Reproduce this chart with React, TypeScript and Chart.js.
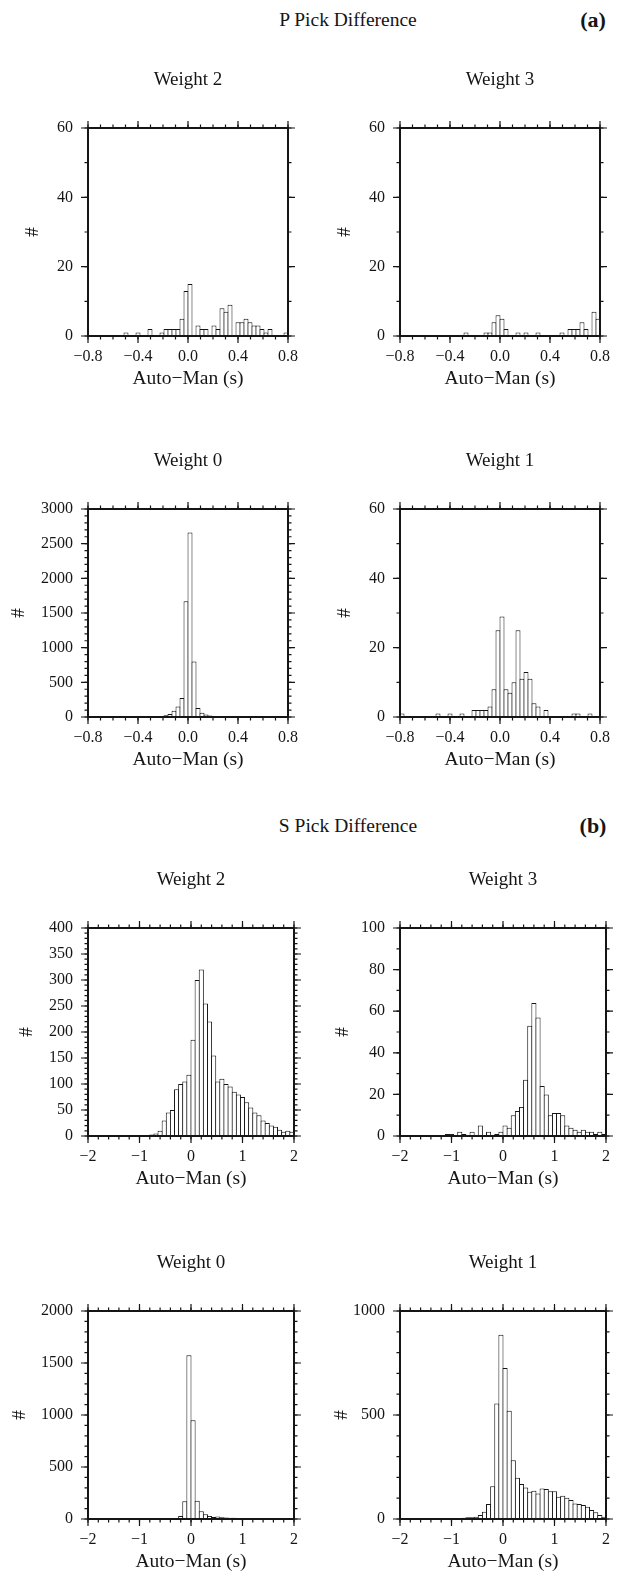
import React, { useEffect, useRef } from 'react';
import { Chart, registerables } from 'chart.js';

Chart.register(...registerables);

// ---- bins ----
const P_BIN_START = -0.8;
const P_BIN_WIDTH = 0.032;
const S_BIN_START = -2;
const S_BIN_WIDTH = 0.08;

// ---- P pick difference counts (50 bins from -0.8 to 0.8) ----
const P_W2 = [
  0, 0, 0, 0, 0, 0, 0, 0, 0, 1,
  0, 0, 1, 0, 0, 2, 0, 0, 1, 2,
  2, 2, 2, 5, 13, 15, 0, 3, 2, 2,
  0, 3, 2, 8, 7, 9, 0, 4, 4, 5,
  4, 3, 3, 2, 1, 2, 0, 0, 0, 1,
];
const P_W3 = [
  0, 0, 0, 0, 0, 0, 0, 0, 0, 0,
  0, 0, 0, 0, 0, 0, 1, 0, 0, 0,
  0, 1, 1, 4, 6, 5, 2, 0, 0, 1,
  0, 1, 0, 0, 1, 0, 0, 0, 0, 0,
  1, 0, 2, 2, 2, 4, 2, 0, 7, 5,
];
const P_W0 = [
  0, 0, 0, 0, 0, 0, 0, 0, 0, 0,
  0, 0, 0, 1, 2, 4, 6, 10, 15, 25,
  45, 90, 150, 275, 1670, 2660, 800, 130, 60, 35,
  20, 12, 8, 5, 3, 2, 1, 0, 0, 0,
  0, 0, 0, 0, 0, 0, 0, 0, 0, 0,
];
const P_W1 = [
  1, 0, 0, 0, 0, 0, 0, 0, 0, 1,
  0, 0, 1, 0, 0, 1, 0, 0, 2, 2,
  2, 2, 3, 8, 25, 29, 8, 7, 10, 25,
  11, 13, 11, 4, 3, 0, 2, 0, 0, 0,
  0, 0, 0, 1, 1, 0, 0, 1, 0, 0,
];

// ---- S pick difference counts (50 bins from -2 to 2) ----
const S_W2 = [
  0, 0, 0, 0, 0, 1, 0, 0, 1, 0,
  1, 1, 1, 2, 2, 3, 5, 10, 30, 45,
  50, 90, 100, 105, 118, 185, 300, 320, 255, 220,
  155, 105, 110, 100, 95, 85, 80, 75, 65, 55,
  45, 40, 30, 25, 20, 18, 12, 8, 10, 8,
];
const S_W3 = [
  0, 0, 0, 0, 0, 0, 0, 0, 0, 0,
  0, 1, 1, 0, 2, 1, 0, 2, 0, 5,
  0, 2, 0, 1, 2, 5, 4, 10, 12, 14,
  27, 53, 64, 57, 24, 20, 10, 11, 11, 10,
  5, 4, 3, 2, 3, 2, 2, 1, 2, 1,
];
const S_W0 = [
  0, 0, 0, 0, 0, 0, 0, 0, 0, 0,
  0, 0, 0, 0, 0, 0, 0, 1, 2, 3,
  5, 10, 30, 170, 1575, 950, 175, 75, 45, 30,
  20, 25, 18, 15, 12, 12, 10, 8, 6, 5,
  4, 3, 3, 2, 2, 1, 1, 1, 0, 0,
];
const S_W1 = [
  0, 0, 0, 0, 0, 0, 0, 0, 0, 0,
  0, 0, 0, 3, 5, 6, 8, 8, 11, 19,
  35, 72, 158, 555, 886, 726, 520, 283, 198, 168,
  152, 131, 136, 123, 147, 144, 134, 134, 107, 112,
  102, 91, 75, 72, 67, 59, 43, 32, 19, 11,
];

const X_TITLE = 'Auto\u2212Man (s)';
const Y_TITLE = '#';
const SECTION_TITLES = ['P Pick Difference', 'S Pick Difference'];
const SECTION_TAGS = ['(a)', '(b)'];

const FONT = '"Liberation Serif", "Times New Roman", serif';
const INK = '#151515';

const CW = 309;
const CH = 343;
const PLOT_W = 208;
const N_BINS = 50;

type PanelSpec = {
  title: string;
  counts: number[];
  binStart: number;
  binWidth: number;
  xMin: number;
  xMax: number;
  xMajor: number;
  xMinor: number;
  xDecimals: number;
  yMax: number;
  yMajor: number;
  yMinor: number;
  yTitleX: number;
  left: number;
  top: number;
};

const P_AXIS = { binStart: P_BIN_START, binWidth: P_BIN_WIDTH, xMin: -0.8, xMax: 0.8, xMajor: 0.4, xMinor: 0.1, xDecimals: 1 };
const S_AXIS = { binStart: S_BIN_START, binWidth: S_BIN_WIDTH, xMin: -2, xMax: 2, xMajor: 1, xMinor: 0.2, xDecimals: 0 };

const PANELS: PanelSpec[] = [
  { title: 'Weight 2', counts: P_W2, ...P_AXIS, yMax: 60, yMajor: 20, yMinor: 10, yTitleX: 33, left: 0, top: 53 },
  { title: 'Weight 3', counts: P_W3, ...P_AXIS, yMax: 60, yMajor: 20, yMinor: 10, yTitleX: 33, left: 312, top: 53 },
  { title: 'Weight 0', counts: P_W0, ...P_AXIS, yMax: 3000, yMajor: 500, yMinor: 100, yTitleX: 19, left: 0, top: 434 },
  { title: 'Weight 1', counts: P_W1, ...P_AXIS, yMax: 60, yMajor: 20, yMinor: 10, yTitleX: 33, left: 312, top: 434 },
  { title: 'Weight 2', counts: S_W2, ...S_AXIS, yMax: 400, yMajor: 50, yMinor: 10, yTitleX: 27, left: 0, top: 853 },
  { title: 'Weight 3', counts: S_W3, ...S_AXIS, yMax: 100, yMajor: 20, yMinor: 10, yTitleX: 31, left: 312, top: 853 },
  { title: 'Weight 0', counts: S_W0, ...S_AXIS, yMax: 2000, yMajor: 500, yMinor: 100, yTitleX: 20, left: 0, top: 1236 },
  { title: 'Weight 1', counts: S_W1, ...S_AXIS, yMax: 1000, yMajor: 500, yMinor: 100, yTitleX: 30, left: 312, top: 1236 },
];

const frameTicks = {
  id: 'frameTicks',
  afterDatasetsDraw(chart: any, _args: any, opts: any) {
    const { ctx, chartArea: a, scales } = chart;
    const x = scales.x;
    const y = scales.y;
    ctx.save();
    ctx.strokeStyle = INK;
    ctx.lineWidth = 1.2;
    const xTicks = (step: number, len: number) => {
      const n = Math.round((x.max - x.min) / step);
      for (let i = 0; i <= n; i++) {
        const px = x.getPixelForValue(x.min + i * step);
        ctx.beginPath();
        ctx.moveTo(px, a.bottom);
        ctx.lineTo(px, a.bottom + len);
        ctx.moveTo(px, a.top);
        ctx.lineTo(px, a.top - len);
        ctx.stroke();
      }
    };
    const yTicks = (step: number, len: number) => {
      const n = Math.round((y.max - y.min) / step);
      for (let i = 0; i <= n; i++) {
        const py = y.getPixelForValue(y.min + i * step);
        ctx.beginPath();
        ctx.moveTo(a.left, py);
        ctx.lineTo(a.left - len, py);
        ctx.moveTo(a.right, py);
        ctx.lineTo(a.right + len, py);
        ctx.stroke();
      }
    };
    xTicks(opts.xMinor, 3.5);
    xTicks(opts.xMajor, 7);
    yTicks(opts.yMinor, 3.5);
    yTicks(opts.yMajor, 7);
    ctx.lineWidth = 2;
    ctx.strokeRect(a.left, a.top, a.right - a.left, a.bottom - a.top);
    ctx.restore();
  },
};

function makeConfig(spec: PanelSpec): any {
  const counts = spec.counts;
  const points = counts.map((c, i) => ({ x: spec.binStart + spec.binWidth * (i + 0.5), y: c }));
  const binPx = PLOT_W / N_BINS;
  // widen each bar by one pixel so neighbouring outlines overlap into a single line
  const overlap = (binPx + 1) / binPx;
  const yTitleFont = 19;
  return {
    type: 'bar',
    data: {
      datasets: [
        {
          data: points,
          backgroundColor: '#ffffff',
          borderColor: INK,
          borderSkipped: false,
          inflateAmount: 0,
          barPercentage: overlap,
          categoryPercentage: 1,
          borderWidth: (ctx: any) => {
            const h = counts[ctx.dataIndex];
            if (!h) return 0;
            return { top: 1, bottom: 0, left: 1, right: 1 };
          },
        },
      ],
    },
    options: {
      responsive: false,
      maintainAspectRatio: false,
      animation: false,
      devicePixelRatio: 1,
      layout: { padding: { left: 0, right: CW - 88 - PLOT_W, top: 0, bottom: 0 } },
      plugins: {
        legend: { display: false },
        tooltip: { enabled: false },
        title: {
          display: true,
          text: spec.title,
          fullSize: false,
          color: INK,
          font: { family: FONT, size: 19, weight: 'normal', lineHeight: 1.2 },
          padding: { top: 15.6, bottom: 36.6 },
        },
        frameTicks: {
          xMajor: spec.xMajor,
          xMinor: spec.xMinor,
          yMajor: spec.yMajor,
          yMinor: spec.yMinor,
        },
      },
      scales: {
        x: {
          type: 'linear',
          min: spec.xMin,
          max: spec.xMax,
          offset: false,
          grid: { display: false, drawTicks: false },
          border: { display: false },
          ticks: {
            stepSize: spec.xMajor,
            autoSkip: false,
            maxRotation: 0,
            minRotation: 0,
            padding: 11,
            color: INK,
            font: { family: FONT, size: 16, lineHeight: 1.2 },
            callback: (v: any) => {
              const n = Number(v);
              const s = Math.abs(n) < 1e-9 ? (0).toFixed(spec.xDecimals) : n.toFixed(spec.xDecimals);
              return s.replace('-', '\u2212');
            },
          },
          title: {
            display: true,
            text: X_TITLE,
            color: INK,
            font: { family: FONT, size: 19.5, lineHeight: 1.2 },
            padding: { top: 0, bottom: 5 },
          },
          afterFit: (s: any) => {
            s.height = 60;
          },
        },
        y: {
          type: 'linear',
          min: 0,
          max: spec.yMax,
          grid: { display: false, drawTicks: false },
          border: { display: false },
          ticks: {
            stepSize: spec.yMajor,
            autoSkip: false,
            padding: 15,
            color: INK,
            font: { family: FONT, size: 16, lineHeight: 1.2 },
            callback: (v: any) => String(Math.round(Number(v))),
          },
          title: {
            display: true,
            text: Y_TITLE,
            color: INK,
            font: { family: FONT, size: yTitleFont, lineHeight: 1.2 },
            padding: { top: spec.yTitleX - (yTitleFont * 1.2) / 2, bottom: 0 },
          },
          afterFit: (s: any) => {
            s.width = 88;
          },
        },
      },
    },
    plugins: [frameTicks],
  };
}

function Panel({ spec }: { spec: PanelSpec }) {
  const ref = useRef<HTMLCanvasElement>(null);
  useEffect(() => {
    if (!ref.current) return;
    const chart = new Chart(ref.current, makeConfig(spec));
    return () => chart.destroy();
  }, [spec]);
  return (
    <canvas
      ref={ref}
      width={CW}
      height={CH}
      style={{ position: 'absolute', left: spec.left, top: spec.top, width: CW, height: CH, display: 'block' }}
    />
  );
}

const textBase: React.CSSProperties = {
  position: 'absolute',
  fontFamily: FONT,
  color: INK,
  whiteSpace: 'nowrap',
  transform: 'translate(-50%, -50%)',
  lineHeight: 1,
};

export default function App() {
  const sectionY = [20, 826];
  return (
    <div style={{ position: 'absolute', left: 0, top: 0, width: 621, height: 1580, background: '#ffffff', overflow: 'hidden' }}>
      {SECTION_TITLES.map((t, i) => (
        <div key={t} style={{ ...textBase, left: 348, top: sectionY[i], fontSize: 19.5 }}>
          {t}
        </div>
      ))}
      {SECTION_TAGS.map((t, i) => (
        <div key={t} style={{ ...textBase, left: 593, top: sectionY[i], fontSize: 22, fontWeight: 'bold' }}>
          {t}
        </div>
      ))}
      {PANELS.map((p, i) => (
        <Panel key={i} spec={p} />
      ))}
    </div>
  );
}
